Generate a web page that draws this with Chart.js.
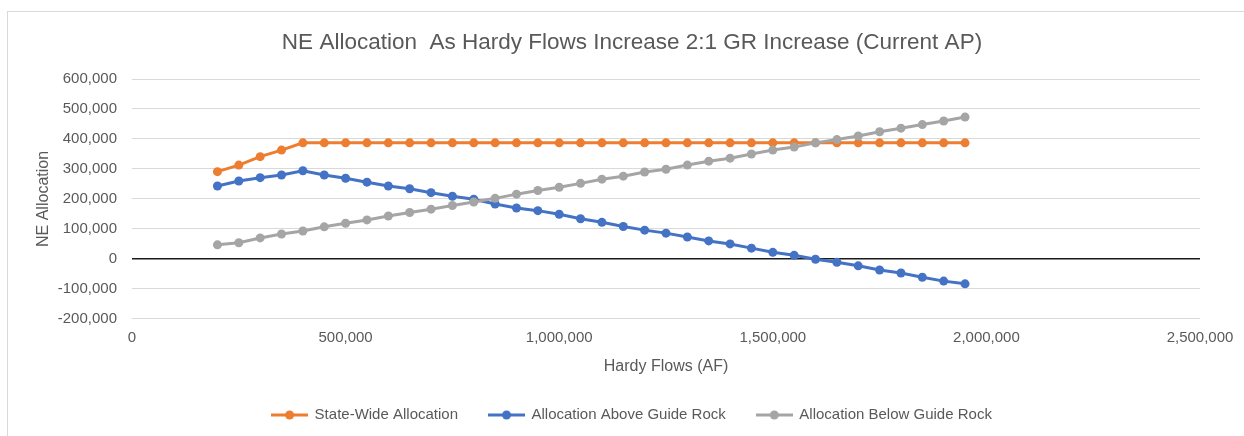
<!DOCTYPE html>
<html>
<head>
<meta charset="utf-8">
<script src="https://cdn.jsdelivr.net/npm/chart.js@4/dist/chart.umd.min.js"></script>
<style>
  html, body { margin: 0; padding: 0; background: #ffffff; }
  #wrap { width: 1244px; height: 436px; }
</style>
</head>
<body>
<div id="wrap"><canvas id="c" width="1244" height="436"></canvas></div>
<script>
const chartTitle = "NE Allocation  As Hardy Flows Increase 2:1 GR Increase (Current AP)";
const xAxisTitle = "Hardy Flows (AF)";
const yAxisTitle = "NE Allocation";
const seriesNames = ["State-Wide Allocation", "Allocation Above Guide Rock", "Allocation Below Guide Rock"];
const seriesColors = ["#ED7D31", "#4472C4", "#A5A5A5"];

const hardyFlows = [200000, 250000, 300000, 350000, 400000, 450000, 500000, 550000, 600000, 650000,
  700000, 750000, 800000, 850000, 900000, 950000, 1000000, 1050000, 1100000, 1150000,
  1200000, 1250000, 1300000, 1350000, 1400000, 1450000, 1500000, 1550000, 1600000, 1650000,
  1700000, 1750000, 1800000, 1850000, 1900000, 1950000];

const stateWide = [291000, 313000, 341000, 363000, 387000, 387000, 387000, 387000, 387000, 387000,
  387000, 387000, 387000, 387000, 387000, 387000, 387000, 387000, 387000, 387000,
  387000, 387000, 387000, 387000, 387000, 387000, 387000, 387000, 387000, 387000,
  387000, 387000, 387000, 387000, 387000, 387000];

const aboveGuideRock = [243000, 260000, 271000, 280000, 294000, 280000, 269000, 256000, 243000, 234000,
  221000, 209000, 199000, 183000, 170000, 161000, 149000, 134000, 122000, 108000,
  96000, 86000, 73000, 60000, 50000, 36000, 22000, 12000, -1000, -11000,
  -23000, -37000, -47000, -61000, -74000, -83000];

const belowGuideRock = [47000, 54000, 70000, 83000, 93000, 107000, 119000, 130000, 143000, 155000,
  166000, 178000, 190000, 202000, 216000, 228000, 239000, 252000, 266000, 276000,
  290000, 299000, 313000, 326000, 336000, 350000, 363000, 373000, 387000, 398000,
  410000, 424000, 436000, 448000, 460000, 473000];

const yTicks = [-200000, -100000, 0, 100000, 200000, 300000, 400000, 500000, 600000];
const xTicks = [0, 500000, 1000000, 1500000, 2000000, 2500000];

const FONT = "'Liberation Sans', Arial, sans-serif";
const TEXT = "#595959";

function pts(ys) { return hardyFlows.map((x, i) => ({ x: x, y: ys[i] })); }

function legendIcon(color) {
  const c = document.createElement('canvas');
  c.width = 37; c.height = 10;
  const g = c.getContext('2d');
  g.strokeStyle = color; g.lineWidth = 3;
  g.beginPath(); g.moveTo(0, 5); g.lineTo(37, 5); g.stroke();
  g.fillStyle = color;
  g.beginPath(); g.arc(18.5, 5, 4.5, 0, Math.PI * 2); g.fill();
  return c;
}
const icons = seriesColors.map(legendIcon);

const borderPlugin = {
  id: 'outerBorder',
  beforeDraw(chart) {
    const ctx = chart.ctx;
    ctx.save();
    ctx.strokeStyle = '#d9d9d9';
    ctx.lineWidth = 1;
    ctx.strokeRect(7.5, 11.5, 2000, 2000);
    ctx.restore();
  }
};

const allSeries = [stateWide, aboveGuideRock, belowGuideRock];
const datasets = allSeries.map((ys, i) => ({
  label: seriesNames[i],
  data: pts(ys),
  borderColor: seriesColors[i],
  backgroundColor: seriesColors[i],
  borderWidth: 3,
  pointRadius: 4.5,
  pointHoverRadius: 4.5,
  pointBorderWidth: 0,
  fill: false,
  tension: 0,
  order: 2 - i
}));

new Chart(document.getElementById('c'), {
  type: 'line',
  data: { datasets: datasets },
  plugins: [borderPlugin],
  options: {
    responsive: false,
    animation: false,
    layout: { padding: { left: 20, right: 0, top: 0, bottom: 3.5 } },
    plugins: {
      tooltip: { enabled: false },
      title: {
        display: true,
        text: chartTitle,
        color: TEXT,
        font: { family: FONT, size: 22.5, weight: 'normal' },
        padding: { top: 29.5, bottom: 22.5 }
      },
      legend: {
        position: 'bottom',
        labels: {
          color: TEXT,
          font: { family: FONT, size: 15 },
          usePointStyle: true,
          pointStyleWidth: 35,
          padding: 31,
          sort: (a, b) => a.datasetIndex - b.datasetIndex,
          generateLabels(chart) {
            const items = Chart.defaults.plugins.legend.labels.generateLabels(chart);
            items.forEach(it => { it.pointStyle = icons[it.datasetIndex]; });
            return items;
          }
        }
      }
    },
    scales: {
      x: {
        type: 'linear',
        min: 0,
        max: 2500000,
        afterBuildTicks(scale) { scale.ticks = xTicks.map(v => ({ value: v })); },
        afterFit(scale) { scale.height = 57.6; scale.paddingRight = 44; },
        grid: { display: false, drawTicks: false },
        border: { display: false },
        ticks: {
          color: TEXT,
          font: { family: FONT, size: 15 },
          padding: 10,
          maxRotation: 0,
          callback: v => Number(v).toLocaleString('en-US')
        },
        title: {
          display: true,
          text: xAxisTitle,
          color: TEXT,
          font: { family: FONT, size: 16 },
          padding: { top: 0, bottom: 0 }
        }
      },
      y: {
        type: 'linear',
        min: -200000,
        max: 600000,
        afterBuildTicks(scale) { scale.ticks = yTicks.map(v => ({ value: v })); },
        afterFit(scale) { scale.width = 112; },
        grid: {
          drawTicks: false,
          color: ctx => (ctx.tick && ctx.tick.value === 0) ? '#1a1a1a' : '#d9d9d9',
          lineWidth: ctx => (ctx.tick && ctx.tick.value === 0) ? 1.5 : 1
        },
        border: { display: false },
        ticks: {
          color: TEXT,
          font: { family: FONT, size: 15 },
          padding: 15,
          callback: v => Number(v).toLocaleString('en-US')
        },
        title: {
          display: true,
          text: yAxisTitle,
          color: TEXT,
          font: { family: FONT, size: 16 },
          padding: { top: 14.4, bottom: 0 }
        }
      }
    }
  }
});
</script>
</body>
</html>
